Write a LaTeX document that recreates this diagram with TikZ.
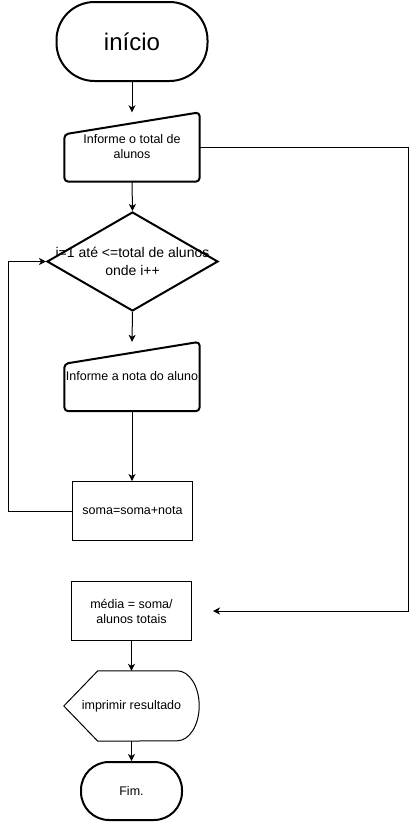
\documentclass[tikz,border=0pt]{standalone}
\usepackage{fontspec}
\setmainfont{Liberation Sans}
\usetikzlibrary{arrows.meta,shapes.geometric,calc}

\newcommand{\fsz}[1]{\fontsize{#1pt}{1.2\dimexpr#1pt\relax}\selectfont}

\tikzset{
  conn/.style={line width=1pt, -{Stealth[length=7pt,width=7pt,inset=2pt]}},
  plain/.style={line width=1pt},
  term/.style={draw, line width=2pt, rectangle, inner sep=0pt, align=center},
  procbox/.style={draw, line width=1pt, rectangle, minimum width=120pt, minimum height=59pt,
                  inner sep=0pt, align=center, font=\fontsize{12.5pt}{15pt}\selectfont},
  holder/.style={rectangle, inner sep=0pt, align=center, font=\fontsize{12.5pt}{15pt}\selectfont},
  thickline/.style={line width=2pt, line join=round},
}

\begin{document}
\begin{tikzpicture}[x=1pt,y=-1pt]
  \useasboundingbox (0,0) rectangle (416,823);

  % start terminator
  \node[term, minimum width=151pt, minimum height=79pt, rounded corners=38pt,
        font=\fsz{24}] (start) at (132,41.5) {início};

  % first manual input
  \node[holder, minimum width=135pt, minimum height=69pt] (in1) at (132,147)
        {Informe o total de\\alunos};
  \draw[thickline, rounded corners=4pt] (in1.south west) -- ($(in1.north west)+(0,22)$)
        -- (in1.north east) -- (in1.south east) -- cycle;

  % loop decision
  \node[draw, diamond, line width=2pt, minimum width=171pt, minimum height=99pt,
        inner sep=0pt] (dec) at (132.5,261.5) {};
  \node[holder, font=\fontsize{14pt}{18pt}\selectfont] (dectext) at (dec)
        {i=1 até <=total de alunos\\onde i++};

  % second manual input
  \node[holder, minimum width=135pt, minimum height=69pt] (in2) at (132,376.5)
        {Informe a nota do aluno};
  \draw[thickline, rounded corners=4pt] (in2.south west) -- ($(in2.north west)+(0,22)$)
        -- (in2.north east) -- (in2.south east) -- cycle;

  % processing boxes
  \node[procbox] (soma) at (132.5,511) {soma=soma+nota};
  \node[procbox] (media) at (131.5,611) {média = soma/\\alunos totais};

  % display
  \node[holder, minimum width=135pt, minimum height=70pt] (out) at (131.5,706)
        {imprimir resultado};
  \draw[plain, line join=round] (out.west) -- ($(out.north west)+(34,0)$)
        -- ($(out.north east)+(-22,0)$)
        arc[start angle=90, end angle=-90, x radius=22pt, y radius=35pt]
        -- ($(out.south west)+(34,0)$) -- cycle;

  % end terminator
  \node[term, minimum width=101pt, minimum height=58pt, rounded corners=28pt,
        font=\fontsize{12.5pt}{15pt}\selectfont] (fim) at (131.5,791) {Fim.};

  % connectors
  \draw[conn] (start.south) -- (in1.north);
  \draw[conn] (in1.south) -- (dec.north);
  \draw[conn] (dec.south) -- (in2.north);
  \draw[conn] (in2.south) -- (soma.north -| in2.south);
  \draw[conn] (media.south) -- (out.north);
  \draw[conn] (out.south) -- (fim.north);

  \coordinate (loopc) at (8,511);
  \draw[conn] (soma.west) -- (loopc) |- (dec.west);

  \coordinate (rightc) at (408,147);
  \coordinate (mediain) at (213,611);
  \draw[conn] (in1.east) -- (rightc) |- (mediain);
\end{tikzpicture}
\end{document}
